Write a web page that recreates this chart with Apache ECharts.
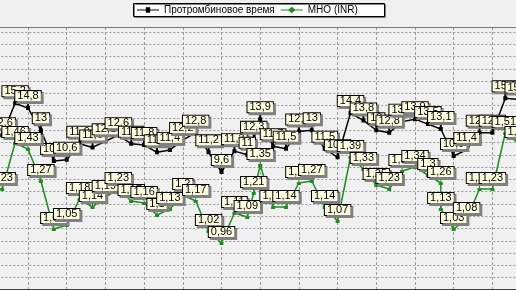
<!DOCTYPE html>
<html><head><meta charset="utf-8">
<script src="https://cdn.jsdelivr.net/npm/echarts@6/dist/echarts.min.js"></script>
<style>html,body{margin:0;padding:0;background:#f0f0f0}#c{width:516px;height:290px}</style>
</head><body><div id="c"></div>
<script>
const seriesNames = ['Протромбиновое время', 'МНО (INR)'];
const ptDays = [1,2,3,4,5,6,7,8,9,10,11,12,13,14,15,16,17,18,19,20,20.5,21,22,23,24,25,26,27,28,29,30,31,32,33,34,35,36,37,38,39,40,41];
const ptValues = [12.6,15.2,14.8,13,10.5,10.6,11.9,11.6,12.1,12.6,11.9,11.8,11.2,11.4,12.2,12.8,11.2,9.6,11.3,11,12.3,13.9,11.7,11.5,12.9,13,11.5,10.8,14.4,13.8,13,12.8,13.7,13.9,13.5,13.1,10.9,11.4,12.8,12.8,15.6,15.5];
const inrDays = [1,2,3,4,5,6,7,8,9,10,11,12,13,14,15,16,17,18,19,20,20.5,21,22,23,24,25,26,27,28,29,30,31,32,33,34,35,35,36,37,38,39,40,41];
const inrValues = [1.23,1.46,1.43,1.27,1.03,1.05,1.18,1.14,1.19,1.23,1.17,1.16,1.1,1.13,1.2,1.17,1.02,0.96,1.11,1.09,1.21,1.35,1.14,1.14,1.26,1.27,1.14,1.07,1.39,1.33,1.25,1.23,1.32,1.34,1.3,1.26,1.13,1.03,1.08,1.23,1.23,1.51,1.46];

const fmt = v => String(v).replace('.', ',');
const ptData = ptDays.map((d, i) => [d, ptValues[i]]);
const inrData = inrDays.map((d, i) => [d, inrValues[i]]);

const labelBase = {
  show: true, position: 'top', distance: 0,
  formatter: p => fmt(p.value[1]),
  fontSize: 11, fontFamily: 'Liberation Sans', color: '#000',
  backgroundColor: '#ffffe1', borderColor: '#000', borderWidth: 1,
  padding: [0, 2, 0, 2], lineHeight: 10,
  shadowColor: '#808080', shadowOffsetX: 2, shadowOffsetY: 2, shadowBlur: 0
};

const chart = echarts.init(document.getElementById('c'));
chart.setOption({
  backgroundColor: '#f0f0f0',
  animation: false,
  grid: { left: -10.7, right: -15.1, top: 27, bottom: 0, outerBoundsMode: 'none', containLabel: false },
  xAxis: {
    type: 'value', min: 0, max: 42, interval: 3,
    axisLine: { show: false }, axisTick: { show: false }, axisLabel: { show: false },
    splitLine: { show: true, lineStyle: { color: '#9a9a9a', type: [3, 2], width: 1 } }
  },
  yAxis: [
    { type: 'value', min: 0, max: 21.4, interval: 1,
      axisLine: { show: false }, axisTick: { show: false }, axisLabel: { show: false },
      splitLine: { show: true, lineStyle: { color: '#9a9a9a', type: [2, 2], width: 1 } } },
    { type: 'value', min: 0.725, max: 2.04, show: false, splitLine: { show: false } }
  ],
  graphic: [
    { type: 'line', shape: { x1: 0, y1: 27.5, x2: 516, y2: 27.5 }, style: { stroke: '#7a7a7a', lineWidth: 1 }, z: 10 },
    { type: 'line', shape: { x1: 0, y1: 289.5, x2: 516, y2: 289.5 }, style: { stroke: '#404040', lineWidth: 1 }, z: 10 },
    { type: 'rect', shape: { x: 133.5, y: 3.5, width: 251, height: 13 },
      style: { fill: '#ffffff', stroke: '#000', lineWidth: 1, shadowColor: '#808080', shadowOffsetX: 1, shadowOffsetY: 1 }, z: 1 }
  ],
  legend: {
    left: 137, top: 5, padding: 0, itemGap: 6, itemWidth: 22, itemHeight: 8, z: 5,
    textStyle: { fontSize: 10, fontFamily: 'Liberation Sans', color: '#000' },
    data: [
      { name: seriesNames[0], icon: 'path://M0,4L8,4L8,2L12,2L12,4L20,4L20,5L12,5L12,7L8,7L8,5L0,5Z' },
      { name: seriesNames[1], icon: 'path://M0,4L7,4L10,1.5L13,4L20,4L20,5L13,5L10,7.5L7,5L0,5Z' }
    ]
  },
  series: [
    { name: seriesNames[0], type: 'line', data: ptData, yAxisIndex: 0,
      color: '#000', lineStyle: { width: 1.5, color: '#000' },
      symbol: 'path://M1,0L3,0L3,5L4,5L4,9L0,9L0,5L1,5Z', symbolSize: [4, 9], symbolOffset: [0, -2.5],
      showAllSymbol: true, itemStyle: { color: '#000' },
      label: labelBase, emphasis: { disabled: true }, z: 2 },
    { name: seriesNames[1], type: 'line', data: inrData, yAxisIndex: 1,
      color: '#1e8c1e', lineStyle: { width: 1.5, color: '#1e8c1e' },
      symbol: 'path://M1.5,0L2.5,0L2.5,5L4,5L4,8L0,8L0,5L1.5,5Z', symbolSize: [4, 8], symbolOffset: [0, -2],
      showAllSymbol: true, itemStyle: { color: '#1e8c1e' },
      label: labelBase, emphasis: { disabled: true }, z: 3 }
  ]
});
</script></body></html>
